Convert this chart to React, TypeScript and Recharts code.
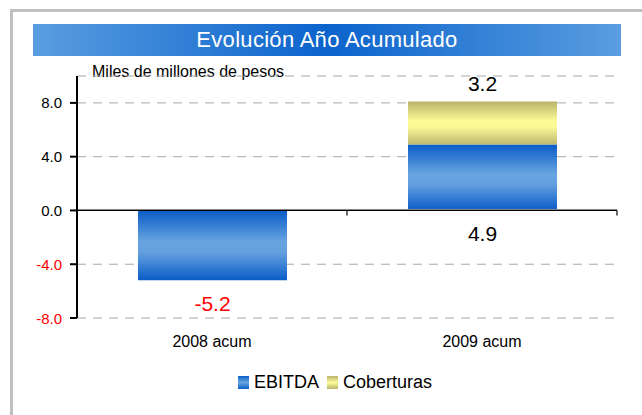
import React from "react"
import {
  BarChart,
  Bar,
  XAxis,
  YAxis,
  CartesianGrid,
  ReferenceLine,
  LabelList,
} from "recharts"

const categories = ["2008 acum", "2009 acum"]
const ebitda = [-5.2, 4.9]
const coberturas = [0, 3.2]
const yTicks = [-8, -4, 0, 4, 8]

const FONT = "'Liberation Sans', Arial, sans-serif"

const data = categories.map((name, i) => ({
  name,
  ebitda: ebitda[i],
  coberturas: coberturas[i],
}))

const legendItems = [
  { label: "EBITDA", fill: "url(#gradBlueH)", css: "linear-gradient(#0b5fca, #6aa5e1 50%, #0b5fca)" },
  { label: "Coberturas", fill: "url(#gradYellowH)", css: "linear-gradient(#bab56c, #fbfb98 50%, #bab56c)" },
]

// y tick: red for negatives
const YTick = ({ x, y, payload }: any) => (
  <text
    x={x}
    y={y}
    textAnchor="end"
    dominantBaseline="central"
    fontSize={15}
    fontFamily={FONT}
    fill={payload.value < 0 ? "#ff0000" : "#000"}
  >
    {payload.value.toFixed(1)}
  </text>
)

// zero line plus the small category separator ticks hanging under it
const ZeroLine = (props: any) => {
  const { x1, x2, y1 } = props
  const band = (x2 - x1) / categories.length
  return (
    <g>
      <line x1={x1} x2={x2} y1={y1 - 1} y2={y1 - 1} stroke="#b0b0b0" strokeWidth={1} />
      <line x1={x1} x2={x2} y1={y1} y2={y1} stroke="#000" strokeWidth={1.2} />
      {categories.map((_, i) => (
        <line
          key={i}
          x1={x1 + band * (i + 1)}
          x2={x1 + band * (i + 1)}
          y1={y1}
          y2={y1 + 5}
          stroke="#000"
          strokeWidth={1.2}
        />
      ))}
    </g>
  )
}

// EBITDA value sits under the bar (below the lower edge)
const BelowLabel = ({ x, y, width, height, value }: any) => {
  const bottom = Math.max(y, y + height)
  return (
    <text
      x={x + width / 2}
      y={bottom + 23}
      textAnchor="middle"
      dominantBaseline="central"
      fontSize={21}
      fontFamily={FONT}
      fill={value < 0 ? "#ff0000" : "#000"}
    >
      {value.toFixed(1)}
    </text>
  )
}

const AboveLabel = ({ x, y, width, height, value }: any) => {
  if (!value) return null
  const top = Math.min(y, y + height)
  return (
    <text
      x={x + width / 2}
      y={top - 18}
      textAnchor="middle"
      dominantBaseline="central"
      fontSize={21}
      fontFamily={FONT}
      fill="#000"
    >
      {value.toFixed(1)}
    </text>
  )
}

export default function App() {
  return (
    <div
      style={{
        position: "absolute",
        left: 0,
        top: 0,
        width: 642,
        height: 415,
        background: "#fff",
        overflow: "hidden",
        fontFamily: FONT,
      }}
    >
      {/* grey frame, open to the right and bottom */}
      <div
        style={{
          position: "absolute",
          left: 10,
          top: 9,
          width: 700,
          height: 500,
          borderLeft: "3px solid #c0c0c0",
          borderTop: "3px solid #c0c0c0",
        }}
      />
      <div
        style={{
          position: "absolute",
          left: 33,
          top: 24,
          width: 588,
          height: 32,
          background: "linear-gradient(to right, #5a9de0, #0b63cc 50%, #5a9de0)",
          color: "#fff",
          fontSize: 22,
          lineHeight: "32px",
          textAlign: "center",
          letterSpacing: 0.3,
        }}
      >
        Evolución Año Acumulado
      </div>
      <div style={{ position: "absolute", left: 92, top: 63, fontSize: 16, color: "#000" }}>
        Miles de millones de pesos
      </div>

      <div style={{ position: "absolute", left: 0, top: 0 }}>
        <BarChart
          width={642}
          height={415}
          data={data}
          margin={{ top: 76, right: 25, bottom: 67, left: 0 }}
          barSize={149}
        >
          <defs>
            <linearGradient id="gradBlue" x1="0" y1="0" x2="0" y2="1">
              <stop offset="0%" stopColor="#0a5cc8" />
              <stop offset="45%" stopColor="#68a4e0" />
              <stop offset="60%" stopColor="#64a0df" />
              <stop offset="100%" stopColor="#0a5cc8" />
            </linearGradient>
            <linearGradient id="gradYellow" x1="0" y1="0" x2="0" y2="1">
              <stop offset="0%" stopColor="#b9b46c" />
              <stop offset="45%" stopColor="#fbfb98" />
              <stop offset="60%" stopColor="#f8f895" />
              <stop offset="100%" stopColor="#bbb770" />
            </linearGradient>
          </defs>
          <CartesianGrid
            vertical={false}
            stroke="#a8a8a8"
            strokeDasharray="9 7"
          />
          <XAxis
            dataKey="name"
            axisLine={false}
            tickLine={false}
            tickMargin={12}
            height={30}
            tick={{ fontSize: 16, fill: "#000", fontFamily: FONT }}
          />
          <YAxis
            domain={[-8, 10]}
            ticks={yTicks}
            width={77}
            axisLine={{ stroke: "#000", strokeWidth: 2 }}
            tickLine={{ stroke: "#000", strokeWidth: 2 }}
            tickSize={7}
            tickMargin={8}
            tick={<YTick />}
            interval={0}
          />
          <Bar dataKey="ebitda" stackId="a" fill="url(#gradBlue)" isAnimationActive={false}>
            <LabelList dataKey="ebitda" content={<BelowLabel />} />
          </Bar>
          <Bar dataKey="coberturas" stackId="a" fill="url(#gradYellow)" isAnimationActive={false}>
            <LabelList dataKey="coberturas" content={<AboveLabel />} />
          </Bar>
          <ReferenceLine y={0} shape={<ZeroLine />} />
        </BarChart>
      </div>

      <div
        style={{
          position: "absolute",
          left: 0,
          top: 372,
          width: 642,
          display: "flex",
          justifyContent: "center",
          paddingLeft: 36,
          boxSizing: "border-box",
          fontSize: 18,
          color: "#000",
        }}
      >
        {legendItems.map((item) => (
          <div key={item.label} style={{ display: "flex", alignItems: "center", marginRight: 8 }}>
            <span
              style={{
                display: "inline-block",
                width: 11,
                height: 13,
                background: item.css,
                marginRight: 5,
              }}
            />
            <span>{item.label}</span>
          </div>
        ))}
      </div>
    </div>
  )
}
